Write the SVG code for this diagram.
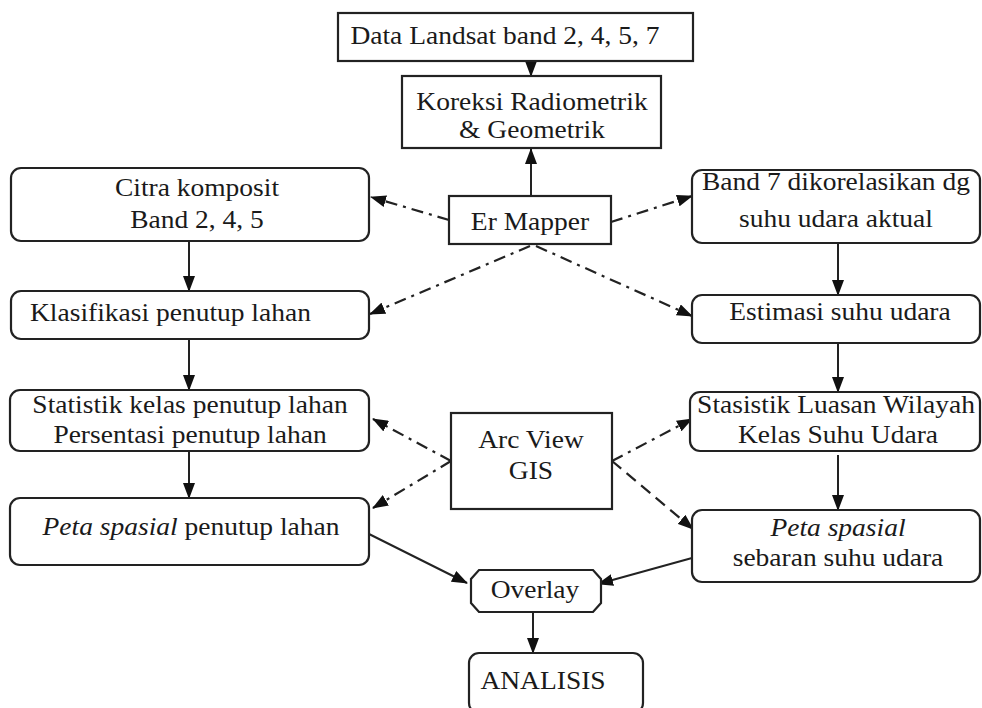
<svg xmlns="http://www.w3.org/2000/svg" width="982" height="708" viewBox="0 0 982 708">
<defs>
<marker id="ah" markerUnits="userSpaceOnUse" markerWidth="16" markerHeight="12" refX="15" refY="6" orient="auto">
<path d="M0,0 L16,6 L0,12 Z" fill="#111"/>
</marker>
<style>
.box{fill:#fff;stroke:#222;stroke-width:2.2}
.t{font-family:'Liberation Serif','Times New Roman',serif;font-size:25px;fill:#1a1a1a}
.c{text-anchor:middle}
.ln{fill:none;stroke:#222;stroke-width:2}
.dd{fill:none;stroke:#222;stroke-width:2.2;stroke-dasharray:12,6,3,6}
.ds{fill:none;stroke:#222;stroke-width:2.2;stroke-dasharray:12,7}
</style>
</defs>
<rect width="982" height="708" fill="#fff"/>
<g id="connectors">
<line class="ln" x1="531" y1="61" x2="531" y2="76" marker-end="url(#ah)"/>
<line class="ln" x1="531" y1="196" x2="531" y2="149" marker-end="url(#ah)"/>
<line class="ln" x1="189" y1="241" x2="189" y2="291" marker-end="url(#ah)"/>
<line class="ln" x1="189" y1="339" x2="189" y2="390" marker-end="url(#ah)"/>
<line class="ln" x1="189" y1="451" x2="189" y2="498" marker-end="url(#ah)"/>
<line class="ln" x1="838" y1="243" x2="838" y2="295" marker-end="url(#ah)"/>
<line class="ln" x1="838" y1="343" x2="838" y2="392" marker-end="url(#ah)"/>
<line class="ln" x1="838" y1="455" x2="838" y2="510" marker-end="url(#ah)"/>
<line class="ln" x1="369" y1="534" x2="467" y2="583" marker-end="url(#ah)"/>
<line class="ln" x1="692" y1="558" x2="598" y2="584" marker-end="url(#ah)"/>
<line class="ln" x1="533" y1="612" x2="533" y2="653" marker-end="url(#ah)"/>
<path class="dd" d="M449,220 L371,197" marker-end="url(#ah)"/>
<path class="dd" d="M611,222 L692,196" marker-end="url(#ah)"/>
<path class="dd" d="M530,246 L370,314" marker-end="url(#ah)"/>
<path class="dd" d="M536,246 L692,316" marker-end="url(#ah)"/>
<path class="dd" d="M451,461 L373,419" marker-end="url(#ah)"/>
<path class="dd" d="M451,461 L373,508" marker-end="url(#ah)"/>
<path class="dd" d="M612,461 L692,419" marker-end="url(#ah)"/>
<path class="ds" d="M612,461 L693,529" marker-end="url(#ah)"/>
</g>
<g id="n-landsat">
<rect class="box" x="338" y="13" width="355" height="48"/>
<text class="t c" transform="translate(505,44) scale(1.1,1)">Data Landsat band 2, 4, 5, 7</text>
</g>
<g id="n-koreksi">
<rect class="box" x="402" y="76" width="259" height="72"/>
<text class="t c" transform="translate(532,110) scale(1.1,1)">Koreksi Radiometrik</text>
<text class="t c" transform="translate(532,138) scale(1.1,1)">&amp; Geometrik</text>
</g>
<g id="n-ermapper">
<rect class="box" x="449" y="196" width="162" height="48"/>
<text class="t c" transform="translate(530,230) scale(1.1,1)">Er Mapper</text>
</g>
<g id="n-citra">
<rect class="box" x="11" y="168" width="358" height="73" rx="10"/>
<text class="t c" transform="translate(197,196) scale(1.1,1)">Citra komposit</text>
<text class="t c" transform="translate(197,228) scale(1.1,1)">Band 2, 4, 5</text>
</g>
<g id="n-klasifikasi">
<rect class="box" x="11" y="291" width="358" height="48" rx="10"/>
<text class="t" transform="translate(30,321) scale(1.1,1)">Klasifikasi penutup lahan</text>
</g>
<g id="n-statistik">
<rect class="box" x="10" y="390" width="359" height="61" rx="10"/>
<text class="t c" transform="translate(190,413) scale(1.1,1)">Statistik kelas penutup lahan</text>
<text class="t c" transform="translate(190,443) scale(1.1,1)">Persentasi penutup lahan</text>
</g>
<g id="n-peta-penutup">
<rect class="box" x="10" y="498" width="359" height="67" rx="10"/>
<text class="t c" transform="translate(191,535) scale(1.1,1)"><tspan font-style="italic">Peta spasial</tspan> penutup lahan</text>
</g>
<g id="n-band7">
<rect class="box" x="692" y="170" width="288" height="73" rx="10"/>
<text class="t c" transform="translate(836,190) scale(1.1,1)">Band 7 dikorelasikan dg</text>
<text class="t c" transform="translate(836,227) scale(1.1,1)">suhu udara aktual</text>
</g>
<g id="n-estimasi">
<rect class="box" x="692" y="295" width="288" height="48" rx="10"/>
<text class="t c" transform="translate(840,320) scale(1.1,1)">Estimasi suhu udara</text>
</g>
<g id="n-arcview">
<rect class="box" x="451" y="413" width="161" height="96"/>
<text class="t c" transform="translate(531,448) scale(1.1,1)">Arc View</text>
<text class="t c" transform="translate(531,479) scale(1.1,1)">GIS</text>
</g>
<g id="n-stasistik">
<rect class="box" x="690" y="392" width="290" height="59" rx="10"/>
<text class="t c" transform="translate(836,413) scale(1.1,1)">Stasistik Luasan Wilayah</text>
<text class="t c" transform="translate(838,443) scale(1.1,1)">Kelas Suhu Udara</text>
</g>
<g id="n-peta-sebaran">
<rect class="box" x="692" y="510" width="288" height="72" rx="10"/>
<text class="t c" font-style="italic" transform="translate(838,536) scale(1.1,1)">Peta spasial</text>
<text class="t c" transform="translate(838,566) scale(1.1,1)">sebaran suhu udara</text>
</g>
<g id="n-overlay">
<path class="box" d="M479,570 L593,570 L601,579 L601,603 L593,612 L479,612 L471,603 L471,579 Z"/>
<text class="t c" transform="translate(535,598) scale(1.1,1)">Overlay</text>
</g>
<g id="n-analisis">
<rect class="box" x="469" y="653" width="174" height="60" rx="10"/>
<text class="t c" transform="translate(543,689) scale(1.1,1)">ANALISIS</text>
</g>
</svg>
